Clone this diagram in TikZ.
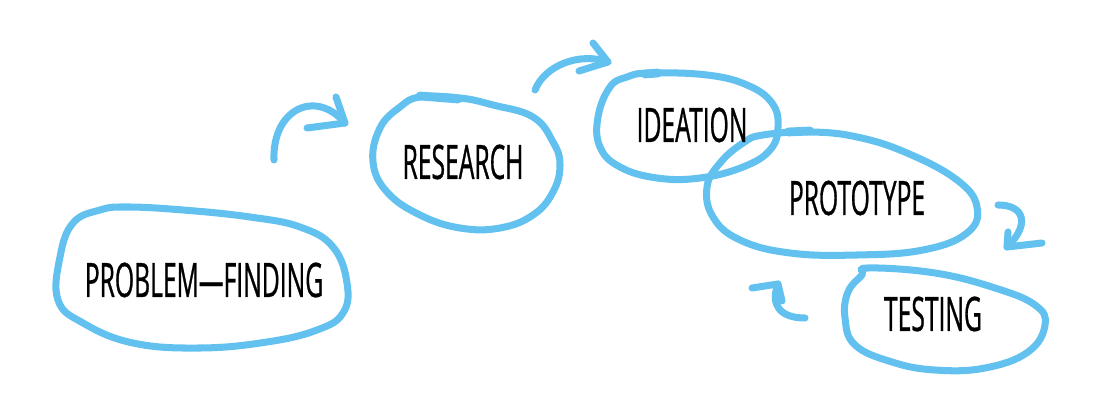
\documentclass[tikz,border=0pt]{standalone}
\usepackage{fontspec}
\newfontfamily\handfont[FakeStretch=0.52,FakeBold=0.6]{Open Sans}
\definecolor{sketchblue}{RGB}{98,193,238}
\begin{document}
\begin{tikzpicture}[x=0.02cm,y=-0.02cm,
    blob/.style={draw=sketchblue,line width=4pt,line cap=round,line join=round},
    hand/.style={draw=sketchblue,line width=4pt,line cap=round,line join=round},
    stagetext/.style={font=\handfont\fontsize{27}{30}\selectfont,text=black,inner sep=0pt}]
  \useasboundingbox (0,0) rectangle (1101,404);
  % outlines
  \draw[blob] plot[smooth cycle,tension=0.7] coordinates {(100,210) (127,207) (183,210) (250,217) (300,227) (333,247) (347,283) (343,313) (317,330) (267,342) (200,348) (133,343) (83,323) (58,300) (60,257) (73,223)};
  \draw[blob] plot[smooth cycle,tension=0.7] coordinates {(420,97) (460,98) (493,105) (533,117) (553,142) (560,165) (553,192) (533,215) (500,228) (460,228) (420,215) (387,192) (373,162) (380,128) (400,107)};
  \draw[blob] plot[smooth cycle,tension=0.7] coordinates {(650,73) (707,75) (747,85) (772,103) (778,127) (770,150) (743,167) (700,178) (657,178) (620,167) (600,147) (598,117) (610,87) (627,77)};
  \draw[blob] plot[smooth cycle,tension=0.7] coordinates {(763,135) (810,132) (857,137) (907,153) (957,180) (977,207) (967,233) (923,250) (857,255) (790,253) (740,240) (713,217) (707,187) (720,163) (743,143)};
  \draw[blob] plot[smooth cycle,tension=0.7] coordinates {(868,268) (935,273) (995,288) (1035,305) (1045,325) (1028,352) (985,368) (935,370) (892,362) (855,345) (845,318) (848,292) (862,275)};
  % pen overlaps
  \draw[blob,line width=5pt] (420,96) -- (458,99);
  \draw[blob,line width=5pt] (645,74) -- (658,73);
  \draw[blob,line width=5pt] (788,132) -- (810,131);
  % stages
  \node[stagetext] (problem) at (204,280) {PROBLEM—FINDING};
  \node[stagetext] (research) at (463,162) {RESEARCH};
  \node[stagetext] (ideation) at (692,125) {IDEATION};
  \node[stagetext] (prototype) at (857,198) {PROTOTYPE};
  \node[stagetext] (testing) at (933,314) {TESTING};
  % arrows
  \coordinate (a1s) at (274,160);
  \coordinate (a1t) at (345,123);
  \draw[hand] (a1s) .. controls (272,110) and (315,88) .. (a1t);
  \draw[hand] (336,97) -- (a1t) -- (307,128);
  \coordinate (a2s) at (535,90);
  \coordinate (a2t) at (608,62);
  \draw[hand] (a2s) .. controls (545,65) and (580,52) .. (a2t);
  \draw[hand] (593,43) -- (a2t) -- (579,71);
  \coordinate (a3s) at (998,205);
  \coordinate (a3t) at (1007,247);
  \draw[hand] (a3s) .. controls (1025,205) and (1030,225) .. (a3t);
  \draw[hand] (1008,232) -- (a3t) -- (1042,243);
  \coordinate (a4s) at (805,318);
  \coordinate (a4t) at (778,284);
  \draw[hand] (a4s) .. controls (780,318) and (770,305) .. (a4t);
  \draw[hand] (752,288) -- (a4t) -- (782,301);
\end{tikzpicture}
\end{document}
